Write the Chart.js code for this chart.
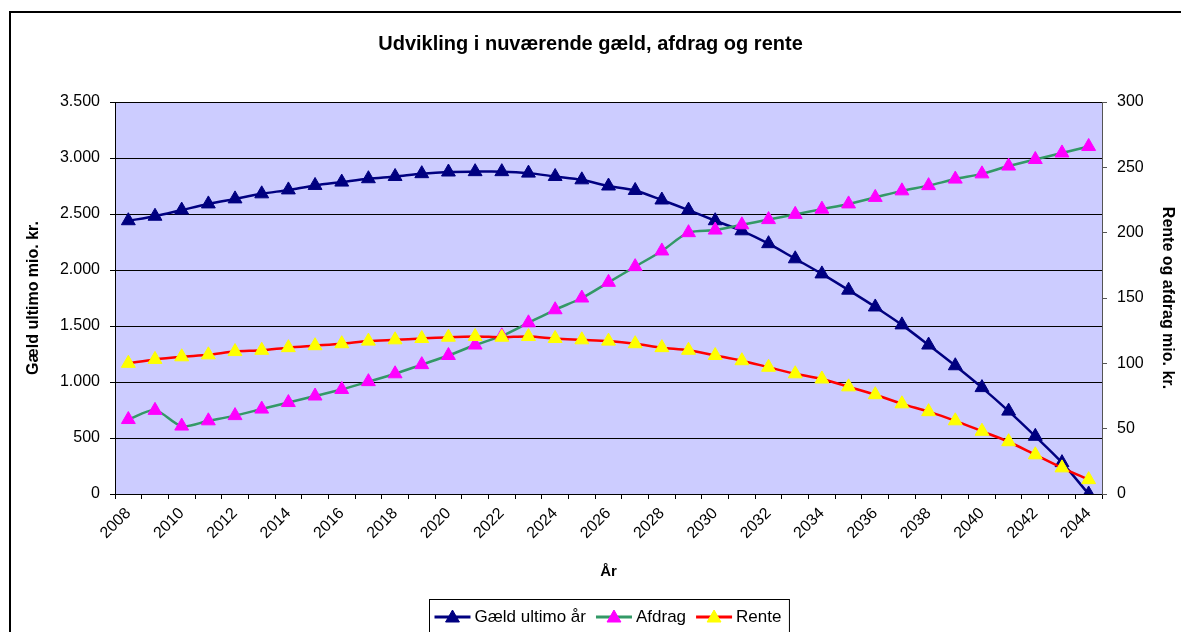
<!DOCTYPE html>
<html>
<head>
<meta charset="utf-8">
<script src="https://cdn.jsdelivr.net/npm/chart.js@4.4.1/dist/chart.umd.min.js"></script>
<style>
html,body{margin:0;padding:0;background:#fff;}
#wrap{width:1181px;height:632px;position:relative;}
</style>
</head>
<body>
<div id="wrap"><canvas id="c" width="1181" height="632"></canvas></div>
<script>
const years = [2008,2009,2010,2011,2012,2013,2014,2015,2016,2017,2018,2019,2020,2021,2022,2023,2024,2025,2026,2027,2028,2029,2030,2031,2032,2033,2034,2035,2036,2037,2038,2039,2040,2041,2042,2043,2044];
const gaeld = [2440,2480,2535,2590,2635,2680,2715,2755,2785,2815,2835,2860,2875,2878,2878,2865,2835,2805,2750,2710,2625,2535,2440,2350,2235,2100,1965,1820,1670,1510,1330,1145,950,740,515,280,0];
const afdrag = [57,64,52,56,60,65,70,75,80,86,92,99,106,114,121,131,141,150,162,174,186,200,202,206,210,214,218,222,227,232,236,241,245,251,256,261,266];
const rente = [100,103,105,106.5,109,110,112,113.5,115,117,118,119,120,120.5,120,120.5,119,118,117,115,112,110,106,102,97,92,88,82,76,69,63,56,48,40,30,20,11];
const leftTicks = [0,500,1000,1500,2000,2500,3000,3500];
const rightTicks = [0,50,100,150,200,250,300];

const FONT = "'Liberation Sans', Arial, sans-serif";
function fmt(v){ return String(v).replace(/\B(?=(\d{3})+(?!\d))/g,'.'); }

const bgPlugin = {
  id:'bg',
  beforeDraw(chart){
    const {ctx, chartArea:a} = chart;
    ctx.save();
    ctx.fillStyle = '#fff';
    ctx.fillRect(0,0,chart.width,chart.height);
    ctx.fillStyle = '#CCCCFF';
    ctx.fillRect(a.left, a.top, a.right-a.left, a.bottom-a.top);
    ctx.strokeStyle = '#000';
    ctx.lineWidth = 2;
    ctx.strokeRect(10, 12, chart.width+20, chart.height+20);
    ctx.restore();
  }
};

function tri(ctx, x, y, r, color){
  ctx.beginPath();
  ctx.moveTo(x, y - r);
  ctx.lineTo(x + r*0.866, y + r*0.5);
  ctx.lineTo(x - r*0.866, y + r*0.5);
  ctx.closePath();
  ctx.fillStyle = color; ctx.fill();
  ctx.strokeStyle = color; ctx.lineWidth = 1; ctx.stroke();
}

const legendPlugin = {
  id:'customLegend',
  afterDraw(chart){
    const ctx = chart.ctx;
    ctx.save();
    ctx.font = '17px ' + FONT;
    ctx.textBaseline = 'middle';
    const items = chart.data.datasets.map(d => ({label:d.label, line:d.borderColor, mark:d.pointBackgroundColor}));
    const lineLen = 36, g1 = 4, g2 = 10, padL = 5, padR = 8;
    let total = padL + padR;
    items.forEach((it,i) => { it.w = ctx.measureText(it.label).width; total += lineLen + g1 + it.w + (i < items.length-1 ? g2 : 0); });
    const cx = 609;
    const bx = Math.round(cx - total/2) + 0.5, by = 599.5, bh = 40;
    ctx.strokeStyle = '#000'; ctx.lineWidth = 1;
    ctx.strokeRect(bx, by, total, bh);
    let x = bx + padL;
    const y = 617;
    items.forEach(it => {
      ctx.strokeStyle = it.line; ctx.lineWidth = 3;
      ctx.beginPath(); ctx.moveTo(x, y); ctx.lineTo(x+lineLen, y); ctx.stroke();
      tri(ctx, x + lineLen/2, y+1, 8, it.mark);
      x += lineLen + g1;
      ctx.fillStyle = '#000';
      ctx.fillText(it.label, x, y);
      x += it.w + g2;
    });
    ctx.restore();
  }
};

const common = {pointStyle:'triangle', pointRadius:8, pointHoverRadius:8, borderWidth:2.5, tension:0.3, pointBorderWidth:1};

new Chart(document.getElementById('c'), {
  type:'line',
  data:{
    labels: years.map(String),
    datasets:[
      Object.assign({label:'Gæld ultimo år', data:gaeld, yAxisID:'y', borderColor:'#000080', pointBackgroundColor:'#000080', pointBorderColor:'#000080', order:3}, common),
      Object.assign({label:'Afdrag', data:afdrag, yAxisID:'y1', borderColor:'#339966', pointBackgroundColor:'#FF00FF', pointBorderColor:'#FF00FF', order:2}, common),
      Object.assign({label:'Rente', data:rente, yAxisID:'y1', borderColor:'#FF0000', pointBackgroundColor:'#FFFF00', pointBorderColor:'#FFFF00', order:1}, common)
    ]
  },
  options:{
    responsive:false,
    animation:false,
    devicePixelRatio:1,
    layout:{padding:0},
    plugins:{
      legend:{display:false},
      tooltip:{enabled:false},
      title:{display:true, text:'Udvikling i nuværende gæld, afdrag og rente', color:'#000',
        font:{family:FONT, size:20, weight:'bold'}, padding:{top:32, bottom:46}}
    },
    scales:{
      x:{
        type:'category', offset:true,
        grid:{offset:true, drawOnChartArea:false, drawTicks:true, tickLength:5, color:'#000'},
        border:{color:'#000', width:1},
        ticks:{autoSkip:false, minRotation:45, maxRotation:45, padding:5, color:'#000',
          font:{family:FONT, size:16},
          callback:function(v,i){ return i % 2 === 0 ? this.getLabelForValue(v) : ''; }},
        title:{display:true, text:'År', color:'#000', font:{family:FONT, size:15, weight:'bold'}, padding:{top:0,bottom:51}},
        afterFit(s){ s.height = 138; }
      },
      y:{
        position:'left', min:0, max:3500,
        afterBuildTicks(s){ s.ticks = leftTicks.map(v=>({value:v})); },
        grid:{color:'#000', tickLength:5, drawTicks:true},
        border:{color:'#000', width:1},
        ticks:{padding:10, color:'#000', font:{family:FONT, size:16}, callback:v=>fmt(v)},
        title:{display:true, text:'Gæld ultimo mio. kr.', color:'#000', font:{family:FONT, size:16, weight:'bold'}, padding:{top:24,bottom:0}},
        afterFit(s){ s.width = 115; }
      },
      y1:{
        position:'right', min:0, max:300,
        afterBuildTicks(s){ s.ticks = rightTicks.map(v=>({value:v})); },
        grid:{drawOnChartArea:false, color:'#555', tickLength:5, drawTicks:true},
        border:{color:'#555', width:1},
        ticks:{padding:10, color:'#000', font:{family:FONT, size:16}, callback:v=>fmt(v)},
        title:{display:true, text:'Rente og afdrag mio. kr.', color:'#000', font:{family:FONT, size:16, weight:'bold'}, padding:{top:4,bottom:0}},
        afterFit(s){ s.width = 79; }
      }
    }
  },
  plugins:[bgPlugin, legendPlugin]
});
</script>
</body>
</html>
